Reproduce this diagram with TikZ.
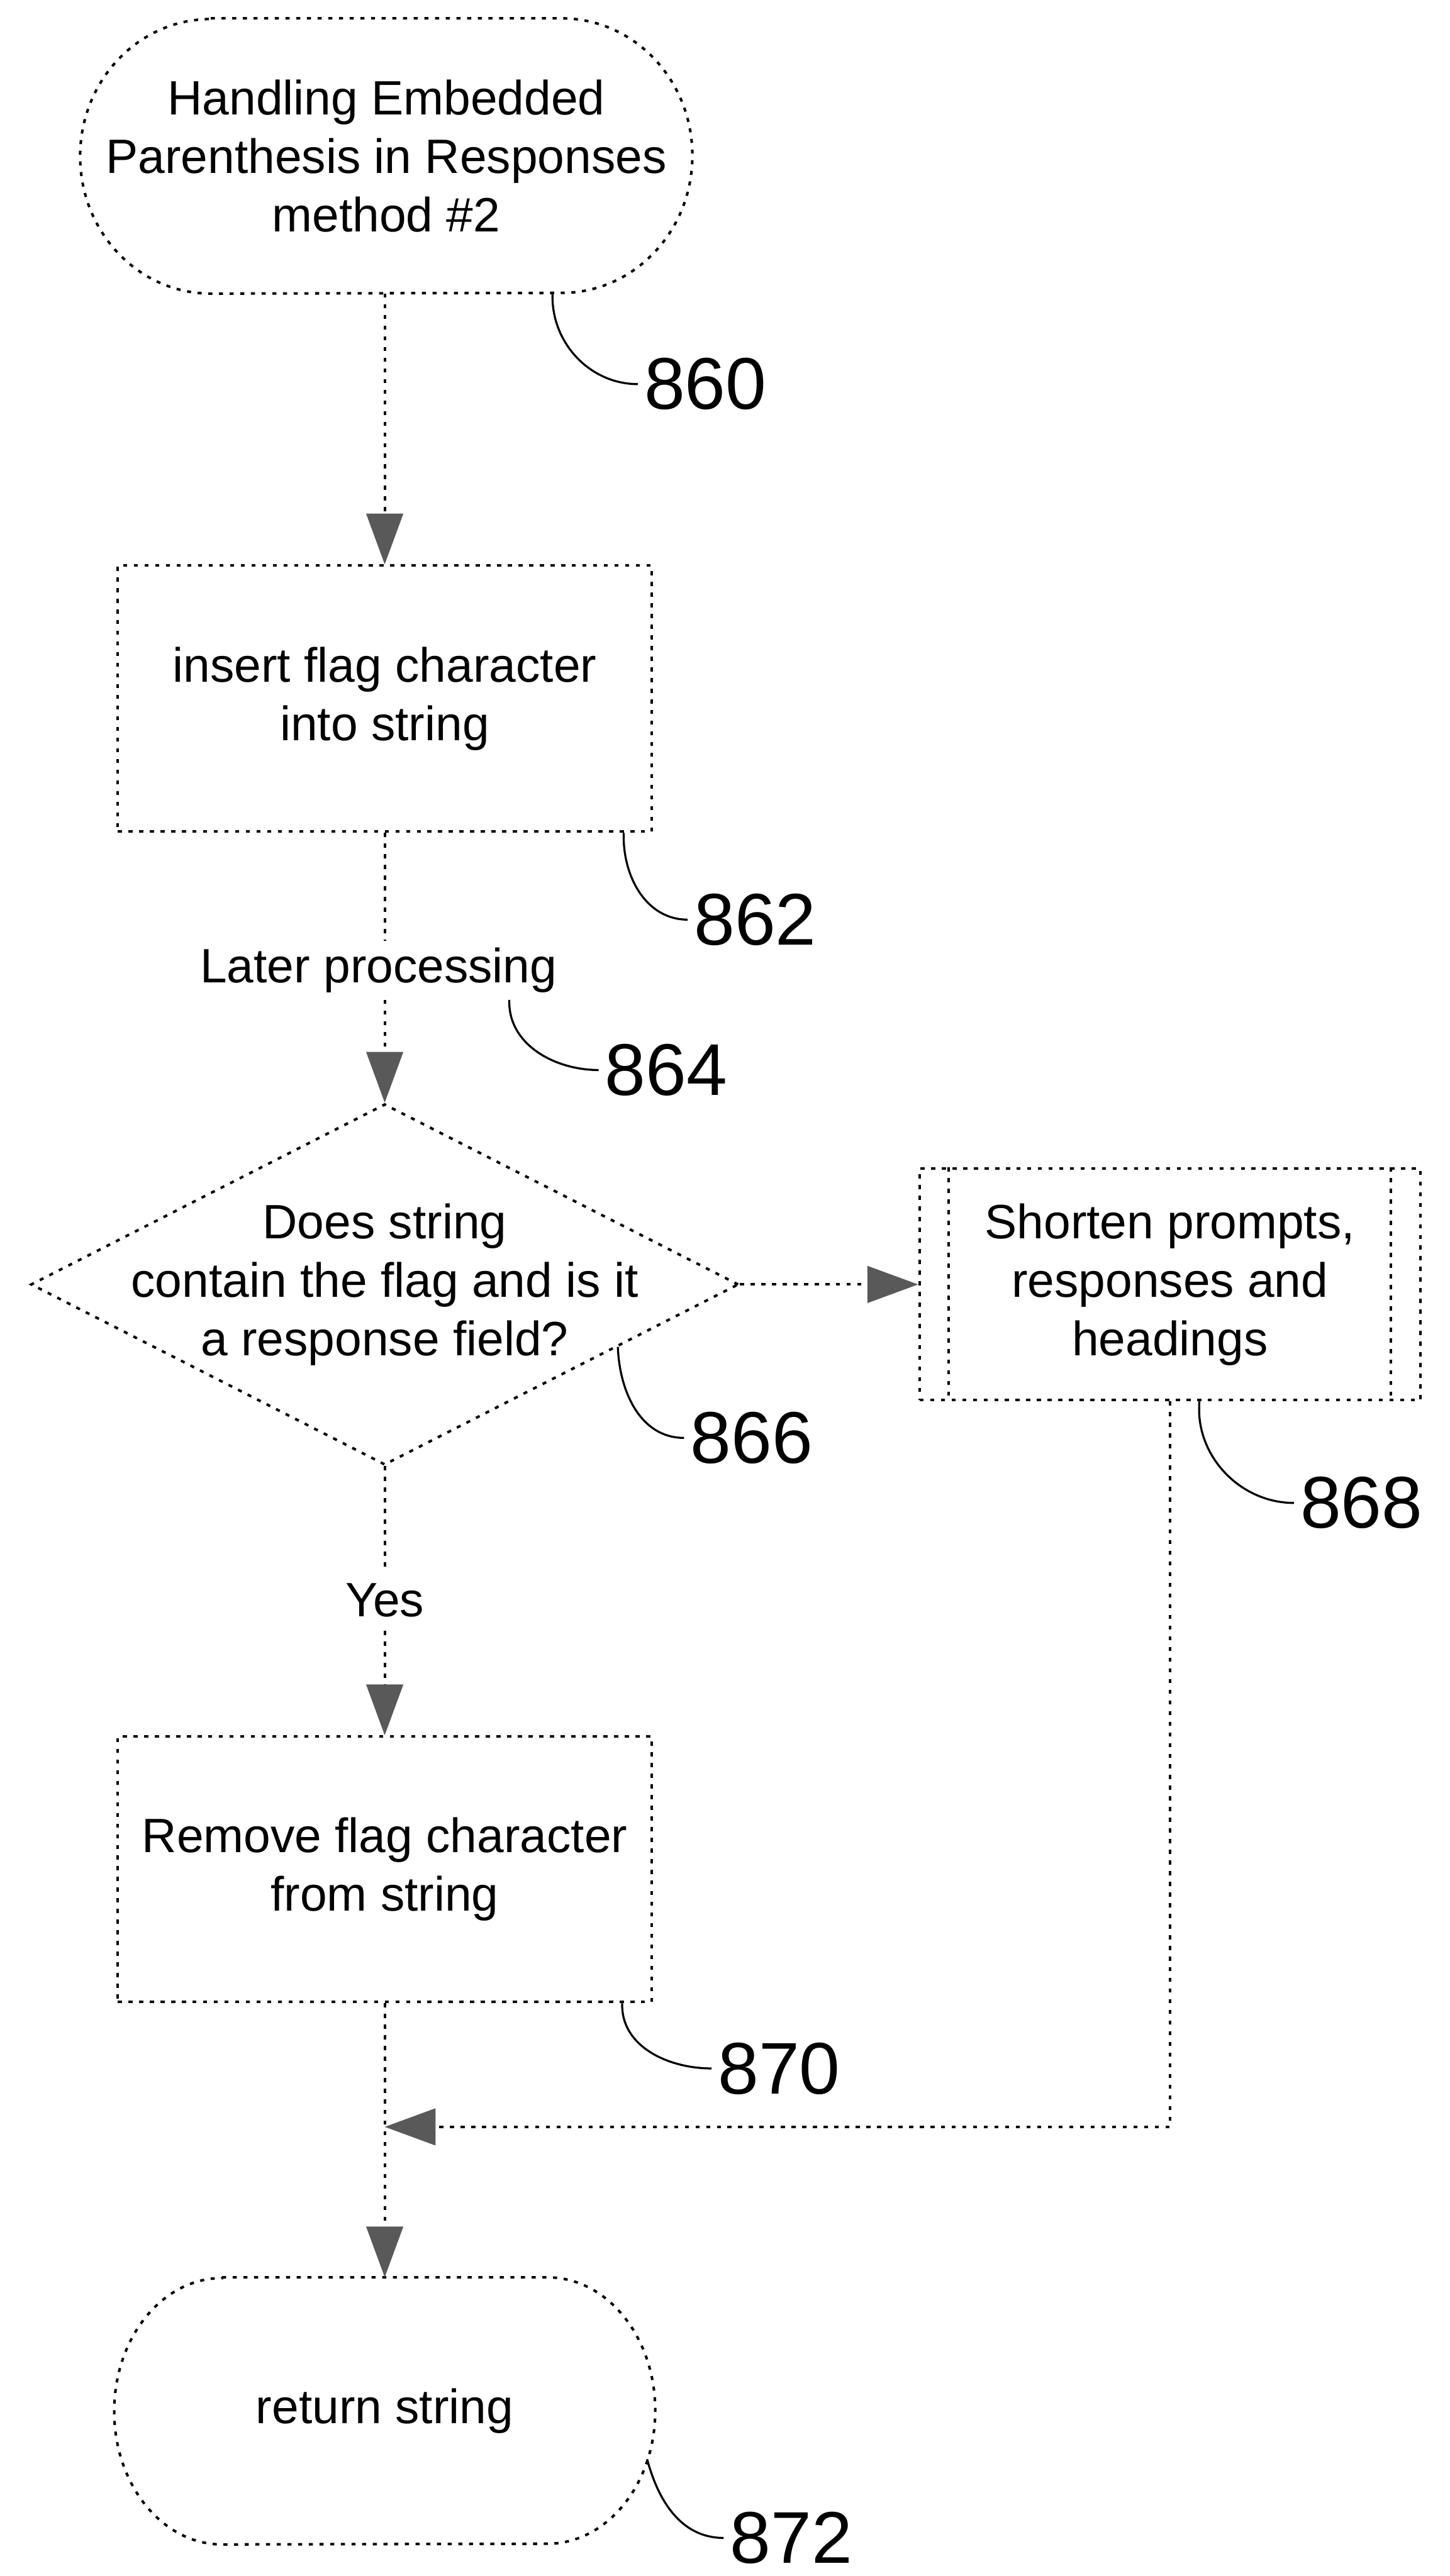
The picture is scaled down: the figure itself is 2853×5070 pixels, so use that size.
\documentclass[tikz,border=0pt]{standalone}
\usepackage{fontspec}
\setmainfont{Liberation Sans}
\usetikzlibrary{arrows.meta,shapes.geometric,calc}

% outline of a terminator: flat top and bottom, half-ellipse ends
\newcommand\termoutline[4]{%
  \draw[dotline] ([xshift=-#2]#1.north) -- ([xshift=#2]#1.north)
    arc[start angle=90,end angle=-90,x radius=#3,y radius=#4]
    -- ([xshift=-#2]#1.south)
    arc[start angle=270,end angle=90,x radius=#3,y radius=#4] -- cycle;}

\tikzset{
  dotline/.style={line width=0.05cm, dash pattern=on 0.08cm off 0.13cm},
  conn/.style={dotline, -{Triangle[length=1cm,width=0.72cm,black!65]}},
  leader/.style={line width=0.04cm},
  body/.style={font=\fontsize{27}{32.7}\selectfont, align=center},
  procbox/.style={body, draw, dotline, rectangle, inner sep=0,
                  minimum width=10.5cm, minimum height=5.23cm},
  termshape/.style={body, rectangle, inner sep=0},
  decision/.style={diamond, draw, dotline, inner sep=0,
                   minimum width=13.92cm, minimum height=7.1cm},
  refnum/.style={font=\fontsize{41}{48}\selectfont, inner sep=0.12cm, anchor=west},
}

\begin{document}
\begin{tikzpicture}[x=0.01cm,y=0.01cm]
\useasboundingbox (0,0) rectangle (2853,-5070);

% main column
\node[termshape, minimum width=12.04cm, minimum height=5.40cm] (start) at (760,-307)
  {Handling Embedded\\Parenthesis in Responses\\method \#2};
\termoutline{start}{3.45cm}{2.57cm}{2.70cm}

\node[procbox] (b862) at (757,-1375) {insert flag character\\into string};

\node[body, inner ysep=0.13cm, inner xsep=0] (lp) at (745,-1910) {Later processing};

\node[decision, label={[body]center:Does string\\contain the flag and is it\\a response field?}]
  (dec) at (757,-2528) {};

\node[procbox, minimum width=9.85cm, minimum height=4.55cm] (b868) at (2302,-2528)
  {Shorten prompts,\\responses and\\headings};
\draw[dotline] ([xshift=0.6cm]b868.north west) -- ([xshift=0.6cm]b868.south west);
\draw[dotline] ([xshift=-0.6cm]b868.north east) -- ([xshift=-0.6cm]b868.south east);

\node[body, inner sep=0.26cm] (yes) at (757,-3150) {Yes};

\node[procbox, minimum height=5.22cm] (b870) at (757,-3679) {Remove flag character\\from string};

\node[termshape, minimum width=10.64cm, minimum height=5.24cm] (ret) at (757,-4745) {return string};
\termoutline{ret}{3.20cm}{2.12cm}{2.62cm}

\coordinate (merge) at (b870.south |- 0,-4186);

% connectors
\draw[conn] (start.south -| b862.north) -- (b862.north);
\draw[dotline] (b862.south) -- (b862.south |- lp.north);
\draw[conn] (b862.south |- lp.south) -- (dec.north);
\draw[conn] (dec.east) -- (b868.west);
\draw[dotline] (dec.south) -- (yes.north);
\draw[conn] (yes.south) -- (b870.north);
\draw[conn] (b870.south) -- (ret.north);
\draw[conn] (b868.south) |- (merge);

% reference numerals
\node[refnum] (l860) at (1255,-756) {860};
\node[refnum] (l862) at (1353,-1810) {862};
\node[refnum] (l864) at (1178,-2106) {864};
\node[refnum] (l866) at (1346,-2830) {866};
\node[refnum] (l868) at (2546,-2958) {868};
\node[refnum] (l870) at (1400,-4071) {870};
\node[refnum] (l872) at (1424,-4995) {872};

\draw[leader] ([xshift=3.27cm]start.south) to[out=-92,in=180] (l860.west);
\draw[leader] ([xshift=4.70cm]b862.south) to[out=-92,in=180] (l862.west);
\draw[leader] ([xshift=2.57cm]lp.south) to[out=-92,in=180] (l864.west);
\draw[leader] (dec.-15.5) to[out=-88,in=180] (l866.west);
\draw[leader] ([xshift=0.58cm]b868.south) to[out=-95,in=180] (l868.west);
\draw[leader] ([xshift=4.67cm]b870.south) to[out=-92,in=180] (l870.west);
\draw[leader] ([shift={(5.16cm,-0.95cm)}]ret.center) to[out=-75,in=180] (l872.west);
\end{tikzpicture}
\end{document}
